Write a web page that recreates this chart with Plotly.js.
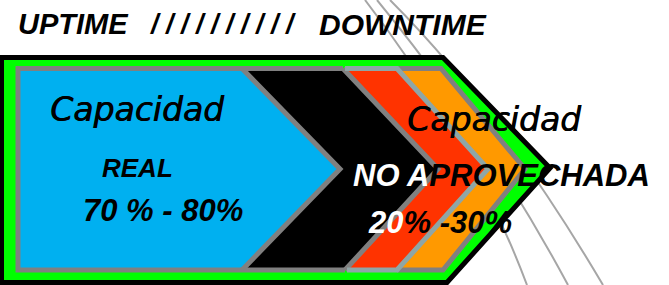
<!DOCTYPE html>
<html>
<head>
<meta charset="utf-8">
<script src="https://cdn.plot.ly/plotly-3.0.1.min.js"></script>
<style>html,body{margin:0;padding:0;background:#fff;}#chart{width:669px;height:285px;}</style>
</head>
<body>
<div id="chart"></div>
<script>
// ---- Text content ----
const headerWords = ["UPTIME", "/ / / / / / / / / /", "DOWNTIME"];
const realLabels = ["Capacidad", "REAL", "70 % - 80%"];
const lostLabels = ["Capacidad", "<span style='color:#ffffff'>NO A</span>PROVECHADA", "<span style='color:#ffffff'>20</span>% -30%"];
// ---- Segment names and colours (left to right) ----
const segments = ["real", "stop", "loss1", "loss2"];
const segmentColors = ["#00b0f0", "#000000", "#ff3300", "#ff9900"];

// ---- Geometry (pixel space of the diagram) ----
const yTop = 68.5, yBot = 270, yMid = 169, xLeft = 18;
const topX = [242, 343, 397, 441];
const tipX = [340, 438, 488, 525];
const botX = [242, 345, 397, 443];

function pt(x, y) { return x + "," + y; }

const shapes = [];
// background arcs
const arcs = [
  [[365, 0], [472, 139], [527, 285]],
  [[377, 0], [487, 134], [568, 285]],
  [[390, 0], [499, 109], [603, 285]]
];
arcs.forEach(a => shapes.push({
  type: "path", xref: "x", yref: "y", layer: "below",
  path: "M" + pt(a[0][0], a[0][1]) + " Q" + pt(a[1][0], a[1][1]) + " " + pt(a[2][0], a[2][1]),
  line: {color: "#a6a6a6", width: 2}
}));
// outer green arrow with black border
shapes.push({
  type: "path", xref: "x", yref: "y",
  path: "M" + pt(1.5, 57.5) + " L" + pt(443, 57.5) + " L" + pt(550, 168) + " L" + pt(447, 282.5) + " L" + pt(1.5, 282.5) + " Z",
  fillcolor: "#00ff00", line: {color: "#000000", width: 5}
});
// coloured segments (fill only)
for (let i = 0; i < segments.length; i++) {
  let p;
  if (i === 0) {
    p = "M" + pt(xLeft, yTop) + " L" + pt(topX[0], yTop) + " L" + pt(tipX[0], yMid) + " L" + pt(botX[0], yBot) + " L" + pt(xLeft, yBot) + " Z";
  } else {
    p = "M" + pt(topX[i - 1], yTop) + " L" + pt(topX[i], yTop) + " L" + pt(tipX[i], yMid) + " L" + pt(botX[i], yBot) +
        " L" + pt(botX[i - 1], yBot) + " L" + pt(tipX[i - 1], yMid) + " Z";
  }
  shapes.push({type: "path", xref: "x", yref: "y", path: p, fillcolor: segmentColors[i], line: {width: 0}});
}
// gray borders
const gray = "#808080", blueGray = "#8fa6a6";
const grayPaths = [
  "M" + pt(topX[1], yTop) + " L" + pt(xLeft, yTop) + " L" + pt(xLeft, yBot) + " L" + pt(botX[1], yBot),
  "M" + pt(topX[2], yTop) + " L" + pt(topX[3], yTop) + " L" + pt(tipX[3], yMid) + " L" + pt(botX[3], yBot) + " L" + pt(botX[2], yBot),
  "M" + pt(topX[0], yTop) + " L" + pt(tipX[0], yMid) + " L" + pt(botX[0], yBot),
  "M" + pt(topX[1], yTop) + " L" + pt(tipX[1], yMid) + " L" + pt(botX[1], yBot)
];
grayPaths.forEach(p => shapes.push({type: "path", xref: "x", yref: "y", path: p, line: {color: gray, width: 5}}));
const bluePaths = [
  "M" + pt(topX[1] + 2, yTop) + " L" + pt(topX[2], yTop) + " L" + pt(tipX[2], yMid) + " L" + pt(botX[2], yBot) + " L" + pt(botX[1] + 2, yBot)
];
bluePaths.forEach(p => shapes.push({type: "path", xref: "x", yref: "y", path: p, line: {color: blueGray, width: 5}}));

// ---- Annotations ----
const boldIt = {family: "Liberation Sans, Arial, sans-serif", weight: "bold", style: "italic", color: "#000000"};
const capFont = {family: "DejaVu Sans, sans-serif", style: "italic", size: 33, color: "#000000", shadow: "0.7px 0 0 #000000"};
function ann(text, x, y, font) {
  return {text: text, x: x, y: y, xref: "x", yref: "y", xanchor: "center", yanchor: "middle", showarrow: false, font: font};
}
const annotations = [
  ann(headerWords[0], 73, 24, Object.assign({}, boldIt, {size: 29})),
  ann(headerWords[1], 223, 24, Object.assign({}, boldIt, {size: 27})),
  ann(headerWords[2], 403, 24, Object.assign({}, boldIt, {size: 30})),
  ann(realLabels[0], 137, 109, capFont),
  ann(realLabels[1], 137, 168, Object.assign({}, boldIt, {size: 26})),
  ann(realLabels[2], 163, 210, Object.assign({}, boldIt, {size: 31})),
  ann(lostLabels[0], 494, 119, capFont),
  ann(lostLabels[1], 501, 175, Object.assign({}, boldIt, {size: 31})),
  ann(lostLabels[2], 440, 222, Object.assign({}, boldIt, {size: 31}))
];

const layout = {
  width: 669, height: 285,
  margin: {l: 0, r: 0, t: 0, b: 0, pad: 0},
  paper_bgcolor: "#ffffff", plot_bgcolor: "#ffffff",
  xaxis: {range: [0, 669], visible: false, fixedrange: true},
  yaxis: {range: [285, 0], visible: false, fixedrange: true},
  showlegend: false,
  shapes: shapes,
  annotations: annotations
};
Plotly.newPlot("chart", [], layout, {displayModeBar: false, staticPlot: true});
</script>
</body>
</html>
